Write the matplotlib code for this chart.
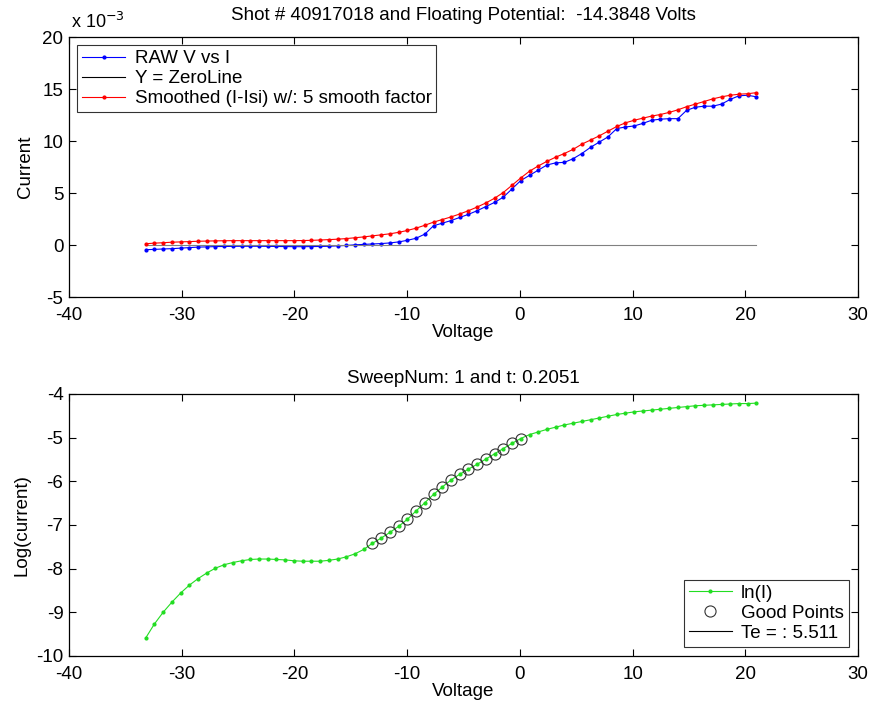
import numpy as np
import matplotlib
matplotlib.use('Agg')
from matplotlib import pyplot as plt

plt.rcParams['font.family'] = ['Liberation Sans', 'DejaVu Sans']
plt.rcParams['font.size'] = 13.5
plt.rcParams['axes.unicode_minus'] = False

# sweep voltages (V)
volts = [-33.20, -32.43, -31.65, -30.88, -30.10, -29.33, -28.56, -27.78, -27.01, -26.23,
         -25.46, -24.69, -23.91, -23.14, -22.36, -21.59, -20.82, -20.04, -19.27, -18.49,
         -17.72, -16.95, -16.17, -15.40, -14.62, -13.85, -13.08, -12.30, -11.53, -10.75,
         -9.98, -9.21, -8.43, -7.66, -6.88, -6.11, -5.34, -4.56, -3.79, -3.01,
         -2.24, -1.47, -0.69, 0.08, 0.86, 1.63, 2.41, 3.18, 3.95, 4.73,
         5.50, 6.28, 7.05, 7.82, 8.60, 9.37, 10.15, 10.92, 11.70, 12.47,
         13.24, 14.02, 14.79, 15.57, 16.34, 17.11, 17.89, 18.66, 19.44, 20.21, 20.99]

# raw current (x 10^-3)
raw_i = [-0.45, -0.42, -0.38, -0.35, -0.30, -0.25, -0.20, -0.18, -0.15, -0.14,
         -0.13, -0.12, -0.12, -0.12, -0.13, -0.14, -0.15, -0.16, -0.16, -0.15,
         -0.14, -0.12, -0.08, -0.04, 0.02, 0.06, 0.10, 0.14, 0.20, 0.30,
         0.45, 0.65, 1.05, 1.85, 2.10, 2.35, 2.65, 2.95, 3.30, 3.70,
         4.10, 4.60, 5.40, 6.20, 6.70, 7.20, 7.70, 7.90, 7.95, 8.30,
         8.80, 9.40, 9.90, 10.40, 11.20, 11.35, 11.45, 11.70, 12.00, 12.10,
         12.15, 12.15, 12.95, 13.25, 13.35, 13.35, 13.55, 14.00, 14.35, 14.40, 14.25]

# smoothed current (x 10^-3)
smooth_i = [0.12, 0.18, 0.22, 0.27, 0.30, 0.33, 0.36, 0.38, 0.40, 0.41,
            0.42, 0.42, 0.42, 0.42, 0.42, 0.42, 0.42, 0.42, 0.43, 0.45,
            0.48, 0.52, 0.56, 0.62, 0.70, 0.78, 0.88, 0.98, 1.08, 1.22,
            1.40, 1.62, 1.90, 2.20, 2.45, 2.70, 2.98, 3.30, 3.65, 4.05,
            4.50, 5.05, 5.75, 6.45, 7.10, 7.60, 8.05, 8.45, 8.80, 9.20,
            9.70, 10.10, 10.50, 10.95, 11.40, 11.75, 12.00, 12.20, 12.40, 12.55,
            12.75, 13.00, 13.30, 13.55, 13.80, 14.05, 14.25, 14.40, 14.50, 14.55, 14.65]

# ln(I)
log_i = [-9.59, -9.27, -9.00, -8.77, -8.56, -8.38, -8.23, -8.10, -7.99, -7.91,
         -7.86, -7.82, -7.79, -7.78, -7.78, -7.79, -7.80, -7.82, -7.83, -7.83,
         -7.83, -7.81, -7.78, -7.73, -7.66, -7.56, -7.42, -7.30, -7.17, -7.03,
         -6.87, -6.68, -6.49, -6.30, -6.13, -5.97, -5.84, -5.72, -5.61, -5.49,
         -5.37, -5.25, -5.13, -5.02, -4.93, -4.87, -4.81, -4.76, -4.71, -4.67,
         -4.63, -4.59, -4.55, -4.51, -4.47, -4.44, -4.41, -4.39, -4.37, -4.35,
         -4.33, -4.31, -4.29, -4.27, -4.26, -4.25, -4.24, -4.23, -4.22, -4.22, -4.21]

good_start, good_end = 26, 44
te = 5.511
shot = '40917018'
vfloat = -14.3848

v = np.array(volts)

fig = plt.figure(figsize=(8.81, 7.04), dpi=100)
ax1 = fig.add_axes([0.0783, 0.5781, 0.8956, 0.3693])
ax2 = fig.add_axes([0.0783, 0.0682, 0.8956, 0.3722])

for ax in (ax1, ax2):
    ax.tick_params(direction='in', top=True, right=True, length=5, width=0.8,
                   labelsize=13.5)
    ax.tick_params(axis='x', pad=7)
    ax.tick_params(axis='y', pad=4)
    for s in ax.spines.values():
        s.set_linewidth(0.9)
    ax.set_xlim(-40, 30)
    ax.set_xticks(range(-40, 31, 10))
    ax.set_xlabel('Voltage', fontsize=13.5, labelpad=0)

ax1.plot(v, raw_i, '-', color='blue', lw=0.8, marker='.', ms=4, label='RAW V vs I')
ax1.plot(v, np.zeros(len(v)), '-', color='0.5', lw=0.8, label='Y = ZeroLine')
ax1.plot(v, smooth_i, '-', color='red', lw=0.8, marker='.', ms=4,
         label='Smoothed (I-Isi) w/: 5 smooth factor')
ax1.set_ylim(-5, 20)
ax1.set_yticks(range(-5, 21, 5))
ax1.set_ylabel('Current', fontsize=13.5, labelpad=6)
ax1.set_title('Shot # %s and Floating Potential:  %.4f Volts' % (shot, vfloat),
              fontsize=13.5, pad=12)
ax1.text(0.003, 1.02, r'x 10$^{-3}$', transform=ax1.transAxes, fontsize=13,
         ha='left', va='bottom')
leg1 = ax1.legend(loc='upper left', fontsize=13.5, frameon=True, fancybox=False,
                  edgecolor='black', handlelength=2.3, borderpad=0.25,
                  labelspacing=0.15, borderaxespad=0.45, handletextpad=0.5)
leg1.get_frame().set_linewidth(0.8)
leg1.legend_handles[1].set_color('black')

ax2.plot(v, log_i, '-', color='#22dd22', lw=0.8, marker='.', ms=4, label='ln(I)')
ax2.plot(v[good_start:good_end], log_i[good_start:good_end], 'o', mfc='none',
         mec='#333333', ms=8, mew=0.8, label='Good Points')
ax2.plot([], [], '-', color='black', lw=0.8, label='Te = : %.3f' % te)
ax2.set_ylim(-10, -4)
ax2.set_yticks(range(-10, -3))
ax2.set_ylabel('Log(current)', fontsize=13.5, labelpad=4)
ax2.set_title('SweepNum: 1 and t: 0.2051', fontsize=13.5, pad=8)
leg2 = ax2.legend(loc='lower right', fontsize=13.5, frameon=True, fancybox=False,
                  edgecolor='black', handlelength=2.3, borderpad=0.25,
                  labelspacing=0.15, borderaxespad=0.5, handletextpad=0.5)
leg2.get_frame().set_linewidth(0.8)

fig.savefig('out.png', dpi=100)
